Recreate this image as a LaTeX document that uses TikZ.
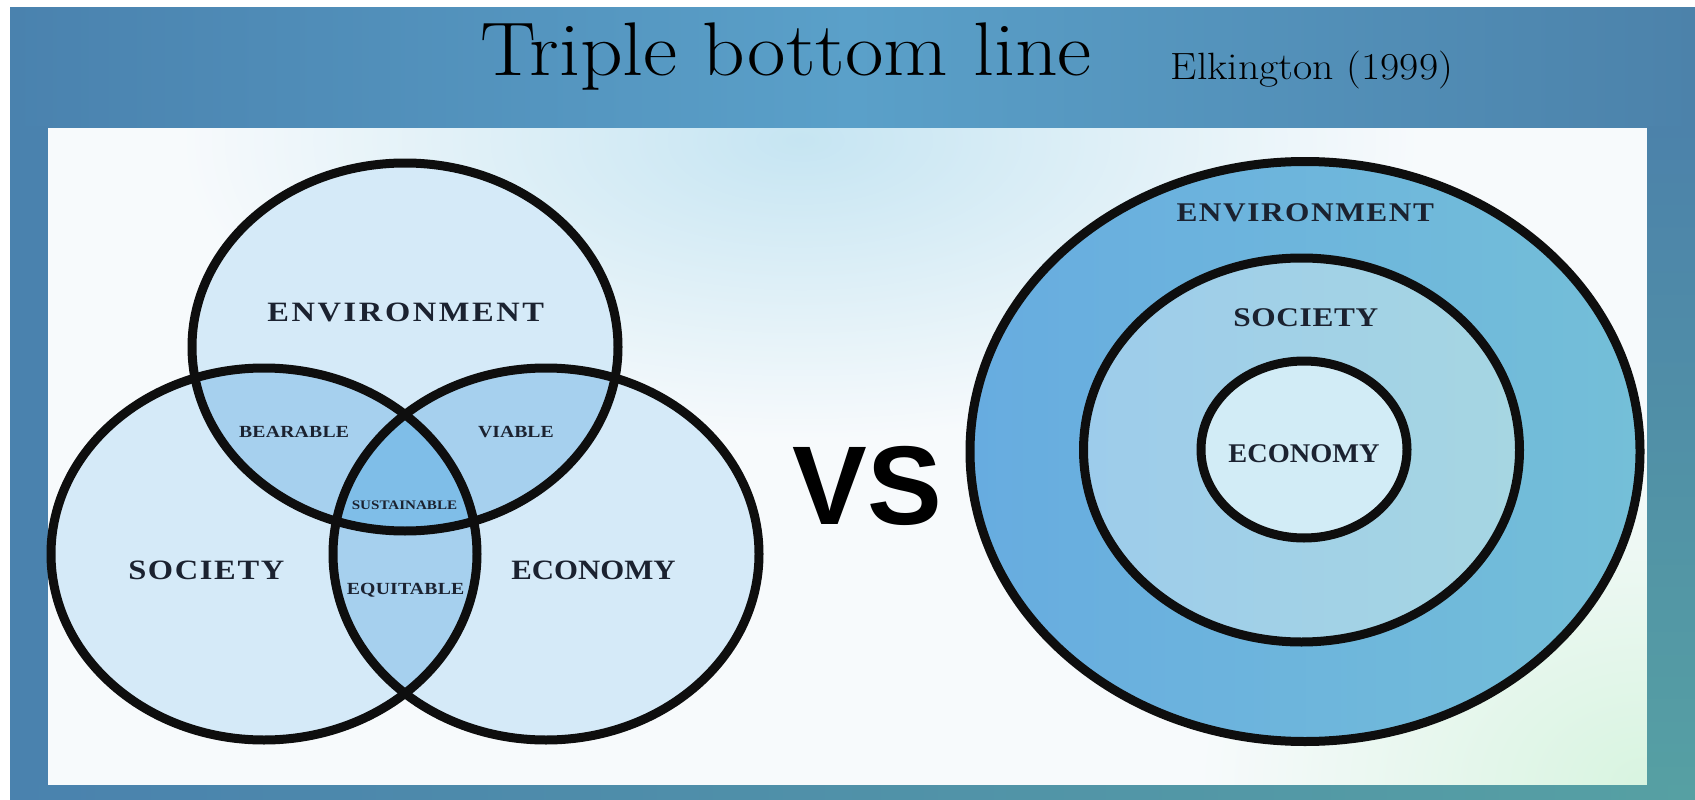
\documentclass[tikz,border=0pt]{standalone}
\usepackage{fontspec}
\usepackage{graphicx}
\newfontfamily\serifB{Liberation Serif}
\newfontfamily\sansB{Liberation Sans}
\definecolor{bgB}{HTML}{4A82AE}
\definecolor{bgLight}{HTML}{5AA0C9}
\definecolor{bgR}{HTML}{4C82AA}
\definecolor{bgTeal}{HTML}{56A0A3}
\definecolor{panelW}{HTML}{F7FAFC}
\definecolor{panelCyan}{HTML}{C6E5F2}
\definecolor{panelGreen}{HTML}{D8F4E0}
\definecolor{vA}{HTML}{D5EAF8}
\definecolor{vB}{HTML}{A6D0EE}
\definecolor{vC}{HTML}{7FBEE8}
\definecolor{rOutL}{HTML}{67ACE0}
\definecolor{rOutR}{HTML}{74BFD8}
\definecolor{rMidL}{HTML}{9DCCEB}
\definecolor{rMidR}{HTML}{A6D6E2}
\definecolor{rIn}{HTML}{D2ECF6}
\definecolor{ink}{HTML}{0E0E0E}
\definecolor{txt}{HTML}{1B2230}
% size, letterspace, xscale, text
\newcommand\lbl[4]{\scalebox{#3}[1]{\fontsize{#1}{#1}\selectfont\serifB\bfseries\addfontfeatures{LetterSpace=#2}#4\kern-\dimexpr\fontdimen6\font*#2/100\relax}}
\begin{document}
\begin{tikzpicture}[x=1pt,y=-1pt,
  ring/.style={line width=9pt, draw=ink},
  lab/.style={anchor=base, inner sep=0pt, text=txt}]
\useasboundingbox (0,0) rectangle (1695,800);
\fill[white] (0,0) rectangle (1695,800);
% panel
\fill[panelW] (48,127) rectangle (1647,785);
\begin{scope}
  \clip (48,127) rectangle (1647,785);
  \shade[inner color=panelCyan, outer color=panelW] (800,140) ellipse (620 and 300);
  \shade[inner color=panelGreen, outer color=panelW] (1647,785) ellipse (450 and 340);
\end{scope}
% background strips
\shade[left color=bgB, right color=bgR, middle color=bgLight] (10,8) rectangle (1695,127);
\fill[bgB] (10,126) rectangle (48,800);
\shade[top color=bgR, bottom color=bgTeal] (1647,126) rectangle (1695,800);
\shade[left color=bgB, right color=bgTeal] (10,785) rectangle (1695,800);
% title
\node[anchor=base, inner sep=0pt] (title) at (786,76) {\scalebox{1.1}[1]{\fontsize{76}{80}\selectfont\addfontfeatures{FakeBold=1.2}Triple bottom line}};
\node[anchor=base, inner sep=0pt] (cite) at (1312,79) {\scalebox{1.1}[1]{\fontsize{38}{40}\selectfont\addfontfeatures{FakeBold=1}Elkington (1999)}};
% Venn
\fill[vA] (405,347) ellipse (213 and 184);
\fill[vA] (264,554) ellipse (213 and 186);
\fill[vA] (546,554) ellipse (213 and 186);
\begin{scope}
  \clip (405,347) ellipse (213 and 184);
  \fill[vB] (264,554) ellipse (213 and 186);
  \fill[vB] (546,554) ellipse (213 and 186);
\end{scope}
\begin{scope}
  \clip (264,554) ellipse (213 and 186);
  \fill[vB] (546,554) ellipse (213 and 186);
\end{scope}
\begin{scope}
  \clip (405,347) ellipse (213 and 184);
  \clip (264,554) ellipse (213 and 186);
  \fill[vC] (546,554) ellipse (213 and 186);
\end{scope}
\draw[ring] (405,347) ellipse (213 and 184);
\draw[ring] (264,554) ellipse (213 and 186);
\draw[ring] (546,554) ellipse (213 and 186);
\node[lab] (envL) at (404.5,321) {\lbl{28}{8}{1.16}{ENVIRONMENT}};
\node[lab] (socL) at (205.5,579) {\lbl{28}{5}{1.16}{SOCIETY}};
\node[lab] (ecoL) at (593.5,579) {\lbl{28}{0}{1.1}{ECONOMY}};
\node[lab] (bear) at (294,437) {\lbl{17}{1}{1.16}{BEARABLE}};
\node[lab] (viab) at (516,437) {\lbl{17}{0}{1.16}{VIABLE}};
\node[lab] (sust) at (404.5,509) {\lbl{13}{0}{1.16}{SUSTAINABLE}};
\node[lab] (equi) at (405.5,594) {\lbl{17}{1}{1.16}{EQUITABLE}};
% VS
\node[anchor=base, inner sep=0pt] (vs) at (867,524) {\sansB\bfseries\fontsize{112}{112}\selectfont VS};
% concentric
\shade[left color=rOutL, right color=rOutR] (1305,451.5) ellipse (335 and 290);
\shade[left color=rMidL, right color=rMidR] (1301.5,450) ellipse (218 and 192);
\fill[rIn] (1304,449.5) ellipse (103 and 88.5);
\draw[ring] (1305,451.5) ellipse (335 and 290);
\draw[ring] (1301.5,450) ellipse (218 and 192);
\draw[ring] (1304,449.5) ellipse (103 and 88.5);
\node[lab] (envR) at (1304.5,221.5) {\lbl{27}{5}{1.16}{ENVIRONMENT}};
\node[lab] (socR) at (1305.5,326.5) {\lbl{27}{2}{1.16}{SOCIETY}};
\node[lab] (ecoR) at (1304,462.5) {\lbl{27}{0}{1.05}{ECONOMY}};
\end{tikzpicture}
\end{document}
